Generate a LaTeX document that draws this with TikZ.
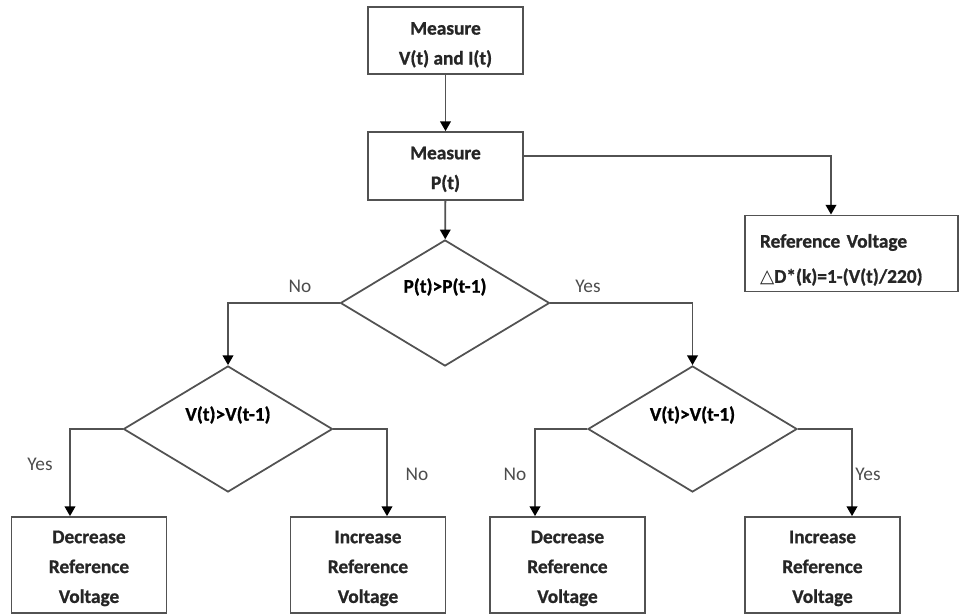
\documentclass[tikz,border=0pt]{standalone}
\usepackage{fontspec}
\setmainfont{Carlito}[BoldFeatures={FakeBold=1}]
\newfontfamily\symfont{DejaVu Sans}
\usetikzlibrary{arrows.meta, positioning, shapes.geometric, calc}

\begin{document}
\begin{tikzpicture}[
    >={Triangle[width=6pt, length=5.5pt, color=black]},
    line/.style={draw=black!68, line width=1pt},
    block/.style={line, rectangle, minimum width=3.1cm, align=center,
                  font=\bfseries\fontsize{11}{17}\selectfont, text=black!85},
    decide/.style={line, diamond, minimum width=4.18cm, minimum height=2.52cm,
                   inner sep=0pt},
    answer/.style={font=\fontsize{11}{13}\selectfont, text=black!70}
  ]
  \useasboundingbox (0,0) rectangle (19.22,-12.3);

  % Measuring
  \node[block, minimum height=1.34cm] (mvi) at (8.91,-0.81) {\rule{0pt}{12pt}Measure\\V(t) and I(t)};
  \node[block, minimum height=1.36cm] (mp) at (8.91,-3.32) {\rule{0pt}{11pt}Measure\\P(t)};
  \node[block, align=left, text width=3.66cm, inner xsep=0.3cm,
        minimum height=1.38cm, font=\bfseries\fontsize{11}{20}\selectfont]
        (ref) at (17.03,-5.07) {\rule{0pt}{15pt}Reference Voltage\\{\symfont\mdseries\fontsize{10.5}{12}\selectfont △}D*(k)=1-(V(t)/220)};

  % Decisions
  \node[decide, label={[yshift=0.32cm, font=\bfseries\fontsize{11}{13}\selectfont]center:P(t)>P(t-1)}]
        (dp) at (8.9,-6.06) {};
  \node[decide, label={[yshift=0.28cm, font=\bfseries\fontsize{11}{13}\selectfont]center:V(t)>V(t-1)}]
        (dvl) at (4.56,-8.58) {};
  \node[decide, label={[yshift=0.28cm, font=\bfseries\fontsize{11}{13}\selectfont]center:V(t)>V(t-1)}]
        (dvr) at (13.85,-8.58) {};

  % Actions
  \node[block, minimum height=1.92cm] (decl) at (1.78,-11.3) {\rule{0pt}{11pt}Decrease\\Reference\\Voltage};
  \node[block, minimum height=1.92cm] (incl) at (7.36,-11.3) {\rule{0pt}{11pt}Increase\\Reference\\Voltage};
  \node[block, minimum height=1.92cm] (decr) at (11.35,-11.3) {\rule{0pt}{11pt}Decrease\\Reference\\Voltage};
  \node[block, minimum height=1.92cm] (incr) at (16.45,-11.3) {\rule{0pt}{11pt}Increase\\Reference\\Voltage};

  % Connectors
  \draw[line, ->] (mvi) -- (mp);
  \draw[line, ->] (mp) -- (dp);
  \draw[line, ->] ([yshift=0.2cm]mp.east) -| ([xshift=-0.41cm]ref.north);
  \draw[line, ->] (dp.west) -| (dvl.north);
  \draw[line, ->] (dp.east) -| (dvr.north);
  \draw[line, ->] (dvl.west) -| ([xshift=-0.38cm]decl.north);
  \draw[line, ->] (dvl.east) -| ([xshift=0.38cm]incl.north);
  \draw[line, ->] (dvr.west) -| ([xshift=-0.65cm]decr.north);
  \draw[line, ->] (dvr.east) -| ([xshift=0.59cm]incr.north);

  % Labels
  \node[answer] (nop) at (6.0,-5.72) {No};
  \node[answer] (yesp) at (11.76,-5.72) {Yes};
  \node[answer] (yesl) at (0.8,-9.28) {Yes};
  \node[answer] (nol) at (8.34,-9.48) {No};
  \node[answer] (nor) at (10.3,-9.48) {No};
  \node[answer] (yesr) at (17.36,-9.48) {Yes};
\end{tikzpicture}
\end{document}
